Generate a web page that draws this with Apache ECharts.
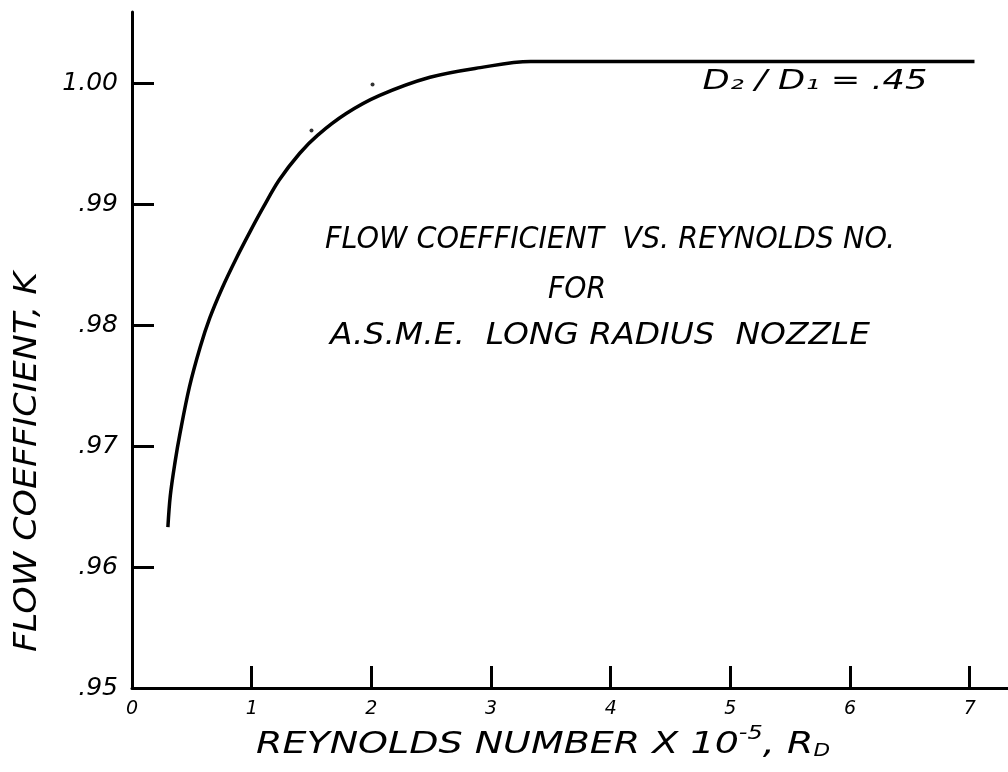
<!DOCTYPE html>
<html><head><meta charset="utf-8">
<script src="https://cdn.jsdelivr.net/npm/echarts@6/dist/echarts.min.js"></script>
<style>html,body{margin:0;padding:0;background:#fff}#c{width:1008px;height:772px}</style>
</head><body><div id="c"></div>
<script>
// Reynolds number x 1e-5
const reynolds = [0.30, 0.32, 0.36, 0.40, 0.48, 0.57, 0.65, 0.75, 0.87, 0.99, 1.10, 1.23, 1.40, 1.55, 1.79, 2.07, 2.49, 2.91, 3.33, 4.00, 7.04];
// Flow coefficient K
const flowCoeff = [0.9633, 0.9659, 0.9687, 0.9710, 0.9749, 0.9782, 0.9806, 0.9830, 0.9855, 0.9878, 0.9898, 0.9920, 0.9942, 0.9957, 0.9975, 0.9990, 1.0005, 1.0013, 1.0018, 1.0018, 1.0018];
// stray marks on the sheet
const markX = [1.50, 2.01];
const markY = [0.9961, 0.9999];
const xTicks = [0, 1, 2, 3, 4, 5, 6, 7];
const xTickLabels = ['0', '1', '2', '3', '4', '5', '6', '7'];
const yTicks = [0.95, 0.96, 0.97, 0.98, 0.99, 1.00];
const yTickLabels = ['.95', '.96', '.97', '.98', '.99', '1.00'];

const FONT = '"DejaVu Sans", sans-serif';
const mctx = document.createElement('canvas').getContext('2d');
function measure(text, size) {
  mctx.font = 'italic normal ' + size + 'px "DejaVu Sans"';
  return mctx.measureText(text).width;
}
function label(text, x, y, size, targetW, rot) {
  const sx = targetW / measure(text, size);
  return {
    type: 'text', x: x, y: y, rotation: rot || 0, scaleX: sx, z: 10,
    style: { text: text, fontFamily: FONT, fontStyle: 'italic', fontSize: size, fill: '#000',
             align: 'center', verticalAlign: 'middle' }
  };
}
function lookup(v, ticks, labels) {
  for (let i = 0; i < ticks.length; i++) if (Math.abs(ticks[i] - v) < 1e-6) return labels[i];
  return '';
}

const chart = echarts.init(document.getElementById('c'));
const xTitleMain = 'REYNOLDS NUMBER X 10, R';
const xTitleSx = 574 / (measure(xTitleMain, 30) + measure('-5', 19) + measure('D', 17));

chart.setOption({
  backgroundColor: '#fff',
  animation: false,
  grid: { left: 132, right: 0, top: 12, bottom: 84, outerBoundsMode: 'none' },
  xAxis: {
    type: 'value', min: 0, max: 7.32,
    splitLine: { show: false },
    axisLine: { show: true, lineStyle: { color: '#000', width: 3 } },
    axisTick: { show: true, inside: true, length: 22, customValues: xTicks, lineStyle: { color: '#000', width: 3 } },
    axisLabel: { customValues: xTicks, formatter: v => lookup(v, xTicks, xTickLabels), color: '#000',
                 fontFamily: FONT, fontStyle: 'italic', fontSize: 19, margin: 12 }
  },
  yAxis: {
    type: 'value', min: 0.95, max: 1.0059,
    splitLine: { show: false },
    axisLine: { show: true, lineStyle: { color: '#000', width: 3 } },
    axisTick: { show: true, inside: true, length: 22, customValues: yTicks, lineStyle: { color: '#000', width: 3 } },
    axisLabel: { customValues: yTicks, formatter: v => lookup(v, yTicks, yTickLabels), color: '#000',
                 fontFamily: FONT, fontStyle: 'italic', fontSize: 25, margin: 14, padding: [0, 0, 12, 0] }
  },
  series: [
    { type: 'line', data: reynolds.map((x, i) => [x, flowCoeff[i]]), smooth: 0.35,
      symbol: 'none', lineStyle: { color: '#000', width: 3.5 } },
    { type: 'scatter', data: markX.map((x, i) => [x, markY[i]]), symbolSize: 4,
      itemStyle: { color: '#000' } }
  ],
  graphic: [
    label('D\u2082 / D\u2081 = .45', 815, 82, 26, 225),
    label('FLOW COEFFICIENT  VS. REYNOLDS NO.', 610, 240, 30, 570),
    label('FOR', 577, 290, 30, 58),
    label('A.S.M.E.  LONG RADIUS  NOZZLE', 600, 336, 30, 540),
    label('FLOW COEFFICIENT, K', 28, 462, 32, 380, Math.PI / 2),
    {
      type: 'text', x: 543, y: 745, scaleX: xTitleSx, z: 10,
      style: {
        text: 'REYNOLDS NUMBER X 10{sup|-5}, R{sub|D}',
        fontFamily: FONT, fontStyle: 'italic', fontSize: 30, fill: '#000',
        align: 'center', verticalAlign: 'middle',
        rich: {
          sup: { fontFamily: FONT, fontStyle: 'italic', fontSize: 19, fill: '#000', padding: [0, 0, 22, 0] },
          sub: { fontFamily: FONT, fontStyle: 'italic', fontSize: 17, fill: '#000', padding: [14, 0, 0, 0] }
        }
      }
    }
  ]
});
</script></body></html>
